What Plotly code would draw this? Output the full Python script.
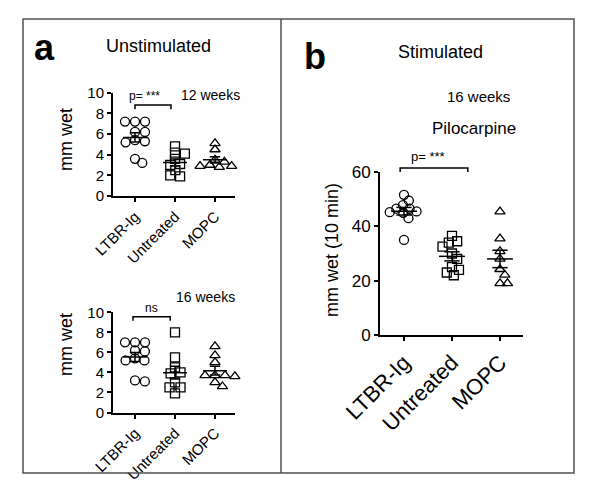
import numpy as np
import plotly.graph_objects as go

# The page body has an 8px default margin; the figure is sized so the page fits
# the 600x497 window and all pixel positions below are window pixels.
WIN_W, WIN_H, BODY = 600, 497, 8
W, H = WIN_W - 2 * BODY, WIN_H - 2 * BODY

# ---------------- data ----------------
groups = ["LTBR-Ig", "Untreated", "MOPC"]

wk12_ltbr = [7.2, 7.2, 7.2, 6.2, 6.2, 5.4, 5.3, 5.2, 3.6, 3.2]
wk12_untr = [4.8, 4.2, 4.1, 3.6, 3.1, 3.0, 2.5, 2.0, 1.9]
wk12_mopc = [5.1, 4.5, 3.5, 3.3, 3.0, 2.9, 2.9, 2.8]

wk16_ltbr = [7.0, 7.0, 7.0, 6.2, 6.1, 5.4, 5.2, 5.2, 3.2, 3.1]
wk16_untr = [8.0, 5.5, 4.5, 4.0, 3.9, 3.0, 2.5, 2.5, 1.9]
wk16_mopc = [6.6, 5.7, 5.0, 3.7, 3.7, 3.7, 3.6, 3.0, 2.6]

pilo_ltbr = [51.6, 49.5, 47.8, 46.5, 46.5, 45.5, 45.2, 45.0, 43.0, 35.0]
pilo_untr = [36.5, 34.5, 34.0, 32.5, 30.0, 28.0, 25.0, 24.0, 23.0, 22.0]
pilo_mopc = [45.4, 35.5, 30.8, 28.0, 24.2, 22.1, 19.0, 19.0]

left_yticks = [0, 2, 4, 6, 8, 10]
right_yticks = [0, 20, 40, 60]

# ---------------- layout helpers ----------------
def fx(px):
    return (px - BODY) / W


def fy(py):
    return 1 - (py - BODY) / H


FONT = "Liberation Sans, Arial, sans-serif"
SYMBOLS = ["circle-open", "square-open", "triangle-up-open"]

panels = [
    dict(xd=(113, 235), yd=(92.7, 196.0), xr=(-0.55, 2.5), yr=(0, 10),
         data=[wk12_ltbr, wk12_untr, wk12_mopc], yt=left_yticks, tfs=15, xfs=15,
         msize=9, gx=10, gy=6, half=0.3, cap=0.13),
    dict(xd=(113, 235), yd=(312.3, 412.5), xr=(-0.55, 2.5), yr=(0, 10),
         data=[wk16_ltbr, wk16_untr, wk16_mopc], yt=left_yticks, tfs=15, xfs=15,
         msize=9, gx=10, gy=6, half=0.3, cap=0.13),
    dict(xd=(380, 523), yd=(172.0, 335.0), xr=(-0.5, 2.48), yr=(0, 60),
         data=[pilo_ltbr, pilo_untr, pilo_mopc], yt=right_yticks, tfs=17, xfs=22,
         msize=9, gx=7.5, gy=7.5, half=0.27, cap=0.16),
]


def beeswarm(vals, px_per_y, px_per_x, gx, gy):
    """Beeswarm with an elliptical exclusion zone: each point goes to the x
    closest to the centre that does not collide with earlier points."""
    placed = []
    offs = []
    for v in vals:
        yp = v * px_per_y
        forb = []
        for a, b in placed:
            dy = abs(yp - b)
            if dy < gy:
                hw = gx * np.sqrt(1 - (dy / gy) ** 2)
                forb.append((a - hw, a + hw))
        cands = [0.0] + [e for iv in forb for e in iv]
        cands.sort(key=lambda c: (round(abs(c), 6), -c))
        for c in cands:
            if all(not (lo + 1e-6 < c < hi - 1e-6) for lo, hi in forb):
                placed.append((c, yp))
                offs.append(c / px_per_x)
                break
    return offs


fig = go.Figure()
layout = dict(width=W, height=H, autosize=False,
              margin=dict(l=0, r=0, t=0, b=0, pad=0, autoexpand=False),
              paper_bgcolor="white", plot_bgcolor="white", showlegend=False,
              font=dict(family=FONT, color="black"))

for i, p in enumerate(panels):
    xa = "xaxis" if i == 0 else f"xaxis{i+1}"
    ya = "yaxis" if i == 0 else f"yaxis{i+1}"
    xr = "x" if i == 0 else f"x{i+1}"
    yr = "y" if i == 0 else f"y{i+1}"
    layout[xa] = dict(domain=[fx(p["xd"][0]), fx(p["xd"][1])], range=list(p["xr"]),
                      anchor=yr, showline=True, linewidth=2, linecolor="black",
                      ticks="outside", ticklen=4, tickwidth=2, tickcolor="black",
                      tickvals=[0, 1, 2], ticktext=groups, tickangle=-45,
                      tickfont=dict(size=p["xfs"], family=FONT, color="black"),
                      showgrid=False, zeroline=False, fixedrange=True, automargin=False)
    layout[ya] = dict(domain=[fy(p["yd"][1]), fy(p["yd"][0])], range=list(p["yr"]),
                      anchor=xr, showline=True, linewidth=2, linecolor="black",
                      ticks="outside", ticklen=4, tickwidth=2, tickcolor="black",
                      tickvals=p["yt"], tickfont=dict(size=p["tfs"], family=FONT, color="black"),
                      showgrid=False, zeroline=False, fixedrange=True, automargin=False)
    px_per_y = (p["yd"][1] - p["yd"][0]) / (p["yr"][1] - p["yr"][0])
    px_per_x = (p["xd"][1] - p["xd"][0]) / (p["xr"][1] - p["xr"][0])
    for g, vals in enumerate(p["data"]):
        offs = beeswarm(vals, px_per_y, px_per_x, p["gx"], p["gy"])
        fig.add_trace(go.Scatter(
            x=[g + o for o in offs], y=vals, mode="markers", xaxis=xr, yaxis=yr,
            marker=dict(symbol=SYMBOLS[g], size=p["msize"], color="black",
                        line=dict(width=1.3, color="black")),
            cliponaxis=False, hoverinfo="skip"))
        arr = np.array(vals)
        m = arr.mean()
        s = arr.std(ddof=1) / np.sqrt(len(arr))
        h, c = p["half"], p["cap"]
        fig.add_trace(go.Scatter(
            x=[g - h, g + h, None, g, g, None, g - c, g + c, None, g - c, g + c],
            y=[m, m, None, m - s, m + s, None, m - s, m - s, None, m + s, m + s],
            mode="lines", line=dict(color="black", width=1.5), xaxis=xr, yaxis=yr,
            hoverinfo="skip"))

# ---------------- frame ----------------
shapes = [
    dict(type="rect", xref="paper", yref="paper", x0=fx(23), x1=fx(574), y0=fy(473), y1=fy(19),
         line=dict(color="#505050", width=1.5)),
    dict(type="line", xref="paper", yref="paper", x0=fx(281), x1=fx(281), y0=fy(473), y1=fy(19),
         line=dict(color="#505050", width=1.5)),
]

# significance brackets (category index span, height, drop) as fraction of y range
brackets = [
    ("x", "y domain", 0.0, 0.9, 8.8 / 10, 8.4 / 10),
    ("x2", "y2 domain", -0.05, 0.88, 9.55 / 10, 9.15 / 10),
    ("x3", "y3 domain", -0.08, 1.33, 61.5 / 60, 60.0 / 60),
]
for xr_, yr_, a, b, top, drop in brackets:
    shapes.append(dict(type="path", xref=xr_, yref=yr_,
                       path=f"M {a},{drop} L {a},{top} L {b},{top} L {b},{drop}",
                       line=dict(color="black", width=1.5)))
layout["shapes"] = shapes

# ---------------- text ----------------
anns = []


def ann(text, x, y, size, bold=False, angle=0):
    t = f"<b>{text}</b>" if bold else text
    anns.append(dict(text=t, x=fx(x), y=fy(y), xref="paper", yref="paper",
                     showarrow=False, xanchor="center", yanchor="middle",
                     textangle=angle, font=dict(size=size, family=FONT, color="black")))


ann("a", 44, 47, 36, bold=True)
ann("b", 315, 56, 36, bold=True)
ann("Unstimulated", 158, 46, 18)
ann("Stimulated", 440, 52, 18)
ann("12 weeks", 210, 95, 14)
ann("16 weeks", 205, 297, 14)
ann("16 weeks", 478, 97, 15)
ann("Pilocarpine", 474, 128, 17)
ann("p= ***", 144, 96, 12)
ann("ns", 151, 308, 12)
ann("p= ***", 428, 157, 13)
ann("mm wet", 66, 140, 18, angle=-90)
ann("mm wet", 66, 345, 18, angle=-90)
ann("mm wet (10 min)", 332, 250, 18, angle=-90)
layout["annotations"] = anns

fig.update_layout(**layout)
fig.write_html("out.html")
